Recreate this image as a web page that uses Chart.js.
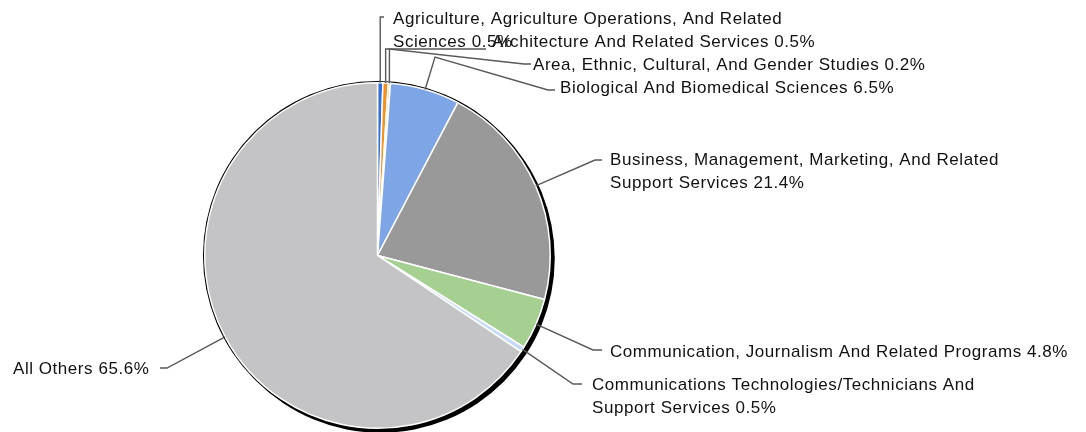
<!DOCTYPE html>
<html>
<head>
<meta charset="utf-8">
<script src="https://cdn.jsdelivr.net/npm/chart.js@4.4.1/dist/chart.umd.min.js"></script>
<style>
  html, body { margin: 0; padding: 0; background: #fff; }
  #wrap { width: 1086px; height: 432px; }
</style>
</head>
<body>
<div id="wrap"><canvas id="pieChart" width="1086" height="432"></canvas></div>
<script>
// data
const categories = [
    'Agriculture, Agriculture Operations, And Related Sciences',
    'Architecture And Related Services',
    'Area, Ethnic, Cultural, And Gender Studies',
    'Biological And Biomedical Sciences',
    'Business, Management, Marketing, And Related Support Services',
    'Communication, Journalism And Related Programs',
    'Communications Technologies/Technicians And Support Services',
    'All Others'
];
const shares = [0.5, 0.5, 0.2, 6.5, 21.4, 4.8, 0.5, 65.6];

const sliceColors = [
    '#3470d9', // Agriculture
    '#f39220', // Architecture
    '#f6c48e', // Area studies
    '#7ea6e6', // Biological
    '#999999', // Business
    '#a6d091', // Communication
    '#c8dbf4', // Comm. technologies
    '#c4c4c6'  // All others
];

// label placement: leader path after the anchor point (null x = same x as anchor), text spot, wrap width
const labelLayout = [
    { path: [[null, 17], [384, 17]], tx: 393, ty: 19, wrap: 405 },
    { path: [[null, 49], [486, 49]], tx: 492, ty: 42, wrap: 1000 },
    { path: [[null, 49], [524, 64], [531, 64]], tx: 533, ty: 65, wrap: 1000 },
    { path: [[435, 57], [548, 90], [555, 90]], tx: 560, ty: 88, wrap: 1000 },
    { path: [[595, 160], [602, 160]], tx: 610, ty: 160, wrap: 400 },
    { path: [[593, 350], [602, 350]], tx: 610, ty: 352, wrap: 1000 },
    { path: [[573, 384], [582, 384]], tx: 592, ty: 385, wrap: 405 },
    { path: [[167, 368], [160, 368]], tx: 13, ty: 369, wrap: 1000 }
];

const fontSpec = '17px "Liberation Sans", Arial, sans-serif';
const lineGap = 23;

function wrapText(ctx, text, maxW) {
    const words = text.split(' ');
    const lines = [];
    let cur = '';
    words.forEach(w => {
        const test = cur ? cur + ' ' + w : w;
        if (cur && ctx.measureText(test).width > maxW) {
            lines.push(cur);
            cur = w;
        } else {
            cur = test;
        }
    });
    if (cur) lines.push(cur);
    return lines;
}

// black rim with a small drop shadow to the lower right
const rimPlugin = {
    id: 'rim',
    beforeDatasetsDraw(chart) {
        const arc = chart.getDatasetMeta(0).data[0];
        if (!arc) return;
        const ctx = chart.ctx;
        const r = arc.outerRadius;
        ctx.save();
        ctx.fillStyle = '#000';
        ctx.beginPath();
        ctx.arc(arc.x + 3, arc.y + 3, r + 1.5, 0, Math.PI * 2);
        ctx.fill();
        ctx.beginPath();
        ctx.arc(arc.x, arc.y, r + 1.8, 0, Math.PI * 2);
        ctx.fill();
        ctx.restore();
    }
};

// outside labels with leader lines
const leaderLabels = {
    id: 'leaderLabels',
    afterDatasetsDraw(chart) {
        const ctx = chart.ctx;
        const arcs = chart.getDatasetMeta(0).data;
        ctx.save();
        ctx.font = fontSpec;
        ctx.letterSpacing = '0.55px';
        arcs.forEach((arc, i) => {
            const lay = labelLayout[i];
            const mid = (arc.startAngle + arc.endAngle) / 2;
            const ax = arc.x + Math.cos(mid) * arc.outerRadius;
            const ay = arc.y + Math.sin(mid) * arc.outerRadius;

            ctx.strokeStyle = '#585858';
            ctx.lineWidth = 1.4;
            ctx.beginPath();
            ctx.moveTo(ax, ay);
            lay.path.forEach(p => ctx.lineTo(p[0] === null ? ax : p[0], p[1]));
            ctx.stroke();

            const text = categories[i] + ' ' + shares[i].toFixed(1) + '%';
            const lines = wrapText(ctx, text, lay.wrap);
            ctx.fillStyle = '#111111';
            ctx.textAlign = 'left';
            ctx.textBaseline = 'middle';
            lines.forEach((ln, k) => ctx.fillText(ln, lay.tx, lay.ty + k * lineGap));
        });
        ctx.restore();
    }
};

const ctx = document.getElementById('pieChart').getContext('2d');
const pieChart = new Chart(ctx, {
    type: 'pie',
    data: {
        labels: categories,
        datasets: [{
            data: shares,
            backgroundColor: sliceColors,
            borderColor: '#ffffff',
            borderWidth: 1.5
        }]
    },
    options: {
        responsive: false,
        animation: false,
        layout: {
            padding: { left: 204, top: 82, right: 535, bottom: 3 }
        },
        plugins: {
            legend: { display: false },
            tooltip: { enabled: false }
        }
    },
    plugins: [rimPlugin, leaderLabels]
});
</script>
</body>
</html>
